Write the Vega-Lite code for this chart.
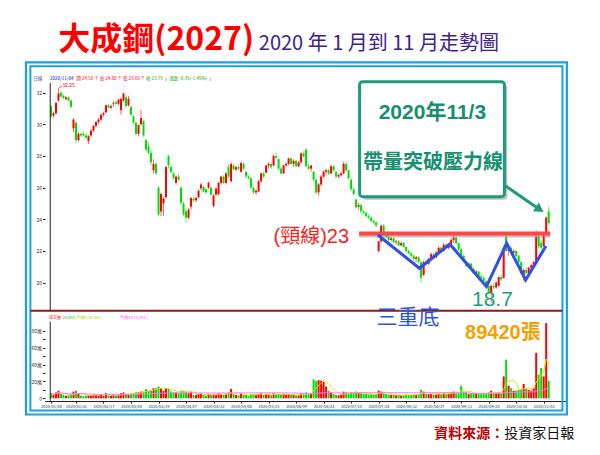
{
"$schema": "https://vega.github.io/schema/vega-lite/v6.json",
"width": 521, "height": 334,
"autosize": "none",
"padding": {"left": 45, "top": 67, "right": 34, "bottom": 54},
"background": "white",
"config": {"view": {"stroke": null}, "font": "Noto Sans CJK TC", "axis": {"labelOverlap": false, "labelSeparation": -20}},
"datasets": {
"k": [
{"i":0,"o":31.15,"h":31.2,"l":30.4,"c":30.5,"v":6000},
{"i":1,"o":30.55,"h":30.8,"l":30.4,"c":30.7,"v":4000},
{"i":2,"o":30.7,"h":31.4,"l":30.6,"c":31.35,"v":7000},
{"i":3,"o":31.5,"h":32.25,"l":31.45,"c":31.95,"v":9000},
{"i":4,"o":32.0,"h":32.1,"l":31.7,"c":31.75,"v":5000},
{"i":5,"o":31.8,"h":31.9,"l":31.6,"c":31.65,"v":4000},
{"i":6,"o":31.6,"h":31.8,"l":31.5,"c":31.7,"v":3000},
{"i":7,"o":31.7,"h":31.75,"l":31.45,"c":31.5,"v":3500},
{"i":8,"o":31.5,"h":31.55,"l":31.05,"c":31.1,"v":4500},
{"i":9,"o":29.75,"h":30.4,"l":29.5,"c":30.3,"v":8000},
{"i":10,"o":30.1,"h":30.2,"l":28.8,"c":29.0,"v":9000},
{"i":11,"o":29.0,"h":29.5,"l":28.9,"c":29.4,"v":5000},
{"i":12,"o":29.4,"h":29.5,"l":29.2,"c":29.3,"v":3000},
{"i":13,"o":29.4,"h":29.55,"l":29.25,"c":29.3,"v":2500},
{"i":14,"o":29.3,"h":29.45,"l":29.05,"c":29.15,"v":3000},
{"i":15,"o":28.95,"h":29.3,"l":28.75,"c":29.25,"v":3500},
{"i":16,"o":29.3,"h":29.7,"l":29.2,"c":29.6,"v":4000},
{"i":17,"o":29.6,"h":29.95,"l":29.5,"c":29.9,"v":4500},
{"i":18,"o":29.9,"h":30.2,"l":29.8,"c":30.15,"v":4000},
{"i":19,"o":30.15,"h":30.4,"l":30.0,"c":30.3,"v":3500},
{"i":20,"o":30.3,"h":30.7,"l":30.2,"c":30.6,"v":5000},
{"i":21,"o":30.6,"h":30.8,"l":30.45,"c":30.7,"v":3000},
{"i":22,"o":30.75,"h":31.25,"l":30.7,"c":31.2,"v":6000},
{"i":23,"o":31.2,"h":31.3,"l":31.0,"c":31.05,"v":3500},
{"i":24,"o":31.05,"h":31.25,"l":30.95,"c":31.15,"v":3000},
{"i":25,"o":31.3,"h":31.5,"l":31.1,"c":31.35,"v":4000},
{"i":26,"o":31.4,"h":31.5,"l":31.2,"c":31.3,"v":3000},
{"i":27,"o":31.3,"h":31.6,"l":31.2,"c":31.55,"v":4000},
{"i":28,"o":30.9,"h":31.7,"l":30.6,"c":31.6,"v":6000},
{"i":29,"o":31.5,"h":32.0,"l":31.4,"c":31.95,"v":7000},
{"i":30,"o":31.7,"h":31.85,"l":31.05,"c":31.15,"v":5000},
{"i":31,"o":31.2,"h":31.8,"l":31.1,"c":31.6,"v":4000},
{"i":32,"o":31.1,"h":31.15,"l":30.55,"c":30.6,"v":5000},
{"i":33,"o":30.5,"h":30.6,"l":30.0,"c":30.1,"v":6000},
{"i":34,"o":30.1,"h":30.15,"l":29.3,"c":29.4,"v":7000},
{"i":35,"o":29.4,"h":30.0,"l":29.25,"c":29.95,"v":7000},
{"i":36,"o":30.0,"h":30.9,"l":29.95,"c":30.4,"v":8000},
{"i":37,"o":30.2,"h":30.3,"l":29.2,"c":29.3,"v":8000},
{"i":38,"o":29.0,"h":29.1,"l":28.3,"c":28.4,"v":11000},
{"i":39,"o":28.6,"h":28.9,"l":28.1,"c":28.2,"v":9000},
{"i":40,"o":28.2,"h":28.4,"l":27.4,"c":27.6,"v":10000},
{"i":41,"o":27.1,"h":27.8,"l":26.9,"c":27.5,"v":12000},
{"i":42,"o":27.5,"h":27.6,"l":26.8,"c":26.9,"v":12000},
{"i":43,"o":26.0,"h":26.1,"l":24.2,"c":24.3,"v":14000},
{"i":44,"o":24.5,"h":25.7,"l":24.2,"c":25.6,"v":12000},
{"i":45,"o":25.0,"h":25.4,"l":24.2,"c":25.3,"v":9000},
{"i":46,"o":25.4,"h":27.4,"l":25.3,"c":27.3,"v":12000},
{"i":47,"o":28.0,"h":28.1,"l":27.2,"c":27.4,"v":11000},
{"i":48,"o":27.3,"h":27.4,"l":26.9,"c":27.0,"v":8000},
{"i":49,"o":26.9,"h":27.0,"l":26.5,"c":26.6,"v":7000},
{"i":50,"o":26.3,"h":26.8,"l":26.2,"c":26.7,"v":7000},
{"i":51,"o":26.7,"h":26.85,"l":26.4,"c":26.5,"v":6000},
{"i":52,"o":26.0,"h":26.1,"l":24.9,"c":25.05,"v":9000},
{"i":53,"o":25.0,"h":25.1,"l":24.2,"c":24.3,"v":9000},
{"i":54,"o":24.5,"h":24.7,"l":23.8,"c":24.1,"v":8000},
{"i":55,"o":24.1,"h":24.7,"l":24.0,"c":24.6,"v":6000},
{"i":56,"o":24.8,"h":25.4,"l":24.6,"c":25.35,"v":8000},
{"i":57,"o":25.3,"h":25.4,"l":25.1,"c":25.2,"v":4000},
{"i":58,"o":25.2,"h":25.45,"l":25.1,"c":25.35,"v":4000},
{"i":59,"o":25.4,"h":25.9,"l":25.3,"c":25.8,"v":5000},
{"i":60,"o":25.95,"h":26.3,"l":25.85,"c":26.2,"v":6000},
{"i":61,"o":26.05,"h":26.1,"l":25.7,"c":25.75,"v":4000},
{"i":62,"o":25.9,"h":26.0,"l":25.6,"c":25.7,"v":3000},
{"i":63,"o":26.0,"h":26.4,"l":25.9,"c":26.3,"v":5000},
{"i":64,"o":26.0,"h":26.1,"l":25.5,"c":25.55,"v":4000},
{"i":65,"o":24.85,"h":25.6,"l":24.75,"c":25.5,"v":5000},
{"i":66,"o":25.55,"h":26.0,"l":25.5,"c":25.95,"v":4000},
{"i":67,"o":25.6,"h":26.35,"l":25.5,"c":26.3,"v":6000},
{"i":68,"o":26.3,"h":26.75,"l":26.2,"c":26.7,"v":5000},
{"i":69,"o":26.7,"h":26.8,"l":26.25,"c":26.3,"v":4000},
{"i":70,"o":26.3,"h":27.0,"l":26.2,"c":26.9,"v":5000},
{"i":71,"o":27.3,"h":27.5,"l":26.6,"c":26.7,"v":7000},
{"i":72,"o":26.4,"h":27.6,"l":26.35,"c":27.5,"v":11000},
{"i":73,"o":27.4,"h":27.5,"l":27.1,"c":27.15,"v":5000},
{"i":74,"o":27.15,"h":27.4,"l":27.05,"c":27.3,"v":4000},
{"i":75,"o":27.3,"h":27.45,"l":27.1,"c":27.2,"v":3500},
{"i":76,"o":27.0,"h":27.65,"l":26.95,"c":27.55,"v":6000},
{"i":77,"o":27.5,"h":27.6,"l":27.1,"c":27.2,"v":4000},
{"i":78,"o":27.0,"h":27.05,"l":26.6,"c":26.7,"v":4000},
{"i":79,"o":26.7,"h":26.8,"l":26.5,"c":26.6,"v":3000},
{"i":80,"o":26.6,"h":26.65,"l":25.9,"c":26.0,"v":5000},
{"i":81,"o":26.0,"h":26.05,"l":25.6,"c":25.7,"v":5000},
{"i":82,"o":25.7,"h":25.9,"l":25.55,"c":25.8,"v":4000},
{"i":83,"o":25.75,"h":26.5,"l":25.7,"c":26.4,"v":5000},
{"i":84,"o":26.4,"h":26.95,"l":26.3,"c":26.9,"v":6000},
{"i":85,"o":26.9,"h":27.0,"l":26.6,"c":26.7,"v":4000},
{"i":86,"o":26.95,"h":27.45,"l":26.9,"c":27.4,"v":5000},
{"i":87,"o":27.4,"h":27.6,"l":27.2,"c":27.5,"v":4500},
{"i":88,"o":27.5,"h":27.6,"l":27.2,"c":27.3,"v":3500},
{"i":89,"o":27.4,"h":28.1,"l":27.35,"c":28.0,"v":6000},
{"i":90,"o":28.0,"h":28.2,"l":27.8,"c":27.9,"v":5000},
{"i":91,"o":27.8,"h":27.85,"l":27.1,"c":27.2,"v":5000},
{"i":92,"o":27.2,"h":27.3,"l":26.8,"c":26.9,"v":4500},
{"i":93,"o":26.9,"h":27.45,"l":26.85,"c":27.4,"v":5000},
{"i":94,"o":27.4,"h":27.6,"l":27.3,"c":27.5,"v":4000},
{"i":95,"o":27.5,"h":27.9,"l":27.4,"c":27.85,"v":5000},
{"i":96,"o":27.85,"h":27.95,"l":27.45,"c":27.5,"v":4000},
{"i":97,"o":27.5,"h":27.8,"l":27.3,"c":27.7,"v":4000},
{"i":98,"o":27.7,"h":27.75,"l":27.3,"c":27.35,"v":3500},
{"i":99,"o":27.35,"h":27.7,"l":27.3,"c":27.6,"v":3500},
{"i":100,"o":27.6,"h":28.25,"l":27.5,"c":28.15,"v":6000},
{"i":101,"o":28.15,"h":28.3,"l":27.9,"c":28.0,"v":5000},
{"i":102,"o":28.4,"h":28.5,"l":27.3,"c":27.35,"v":7000},
{"i":103,"o":27.35,"h":27.5,"l":27.1,"c":27.2,"v":5000},
{"i":104,"o":27.2,"h":27.45,"l":27.0,"c":27.4,"v":5000},
{"i":105,"o":27.0,"h":27.05,"l":26.4,"c":26.5,"v":22500},
{"i":106,"o":26.5,"h":26.6,"l":25.6,"c":25.7,"v":20500},
{"i":107,"o":25.7,"h":26.3,"l":25.5,"c":26.2,"v":21500},
{"i":108,"o":26.2,"h":26.8,"l":26.1,"c":26.7,"v":21000},
{"i":109,"o":26.7,"h":27.1,"l":26.6,"c":27.0,"v":19500},
{"i":110,"o":27.0,"h":27.2,"l":26.8,"c":27.1,"v":14000},
{"i":111,"o":27.1,"h":27.2,"l":26.8,"c":26.9,"v":9000},
{"i":112,"o":26.9,"h":27.45,"l":26.85,"c":27.35,"v":7000},
{"i":113,"o":27.35,"h":27.4,"l":27.0,"c":27.1,"v":5000},
{"i":114,"o":27.0,"h":27.05,"l":26.6,"c":26.7,"v":4000},
{"i":115,"o":26.7,"h":26.9,"l":26.6,"c":26.8,"v":3500},
{"i":116,"o":26.8,"h":27.0,"l":26.7,"c":26.9,"v":4000},
{"i":117,"o":26.9,"h":27.65,"l":26.85,"c":27.5,"v":8000},
{"i":118,"o":27.5,"h":27.6,"l":27.0,"c":27.1,"v":7000},
{"i":119,"o":27.1,"h":27.15,"l":26.5,"c":26.6,"v":6000},
{"i":120,"o":26.5,"h":26.6,"l":25.8,"c":25.9,"v":7000},
{"i":121,"o":25.9,"h":26.0,"l":25.5,"c":25.6,"v":6000},
{"i":122,"o":25.25,"h":25.3,"l":24.7,"c":24.75,"v":8000},
{"i":123,"o":24.8,"h":25.05,"l":24.6,"c":24.9,"v":6000},
{"i":124,"o":24.9,"h":25.0,"l":24.4,"c":24.5,"v":6000},
{"i":125,"o":24.5,"h":24.6,"l":24.3,"c":24.4,"v":5000},
{"i":126,"o":24.4,"h":24.5,"l":24.1,"c":24.2,"v":5000},
{"i":127,"o":24.2,"h":24.35,"l":24.0,"c":24.1,"v":4500},
{"i":128,"o":24.1,"h":24.2,"l":23.8,"c":23.9,"v":5000},
{"i":129,"o":23.9,"h":24.0,"l":23.7,"c":23.8,"v":4500},
{"i":130,"o":23.8,"h":23.9,"l":23.5,"c":23.6,"v":5000},
{"i":131,"o":22.0,"h":22.65,"l":21.9,"c":22.6,"v":9000},
{"i":132,"o":22.6,"h":23.65,"l":22.5,"c":23.6,"v":8000},
{"i":133,"o":23.6,"h":23.7,"l":23.1,"c":23.15,"v":6000},
{"i":134,"o":23.15,"h":23.2,"l":22.8,"c":22.9,"v":5000},
{"i":135,"o":22.9,"h":23.0,"l":22.6,"c":22.7,"v":4500},
{"i":136,"o":22.7,"h":22.9,"l":22.6,"c":22.8,"v":4000},
{"i":137,"o":22.8,"h":22.85,"l":22.5,"c":22.55,"v":4000},
{"i":138,"o":22.55,"h":22.7,"l":22.4,"c":22.6,"v":3500},
{"i":139,"o":22.6,"h":22.7,"l":22.3,"c":22.35,"v":4000},
{"i":140,"o":22.35,"h":22.6,"l":22.3,"c":22.5,"v":3500},
{"i":141,"o":22.5,"h":22.55,"l":22.2,"c":22.25,"v":4000},
{"i":142,"o":22.25,"h":22.3,"l":21.9,"c":22.0,"v":4500},
{"i":143,"o":22.0,"h":22.1,"l":21.8,"c":21.85,"v":4000},
{"i":144,"o":21.85,"h":21.95,"l":21.6,"c":21.7,"v":4000},
{"i":145,"o":21.7,"h":21.8,"l":21.4,"c":21.5,"v":4500},
{"i":146,"o":21.5,"h":21.7,"l":21.3,"c":21.6,"v":4000},
{"i":147,"o":21.6,"h":21.65,"l":21.2,"c":21.3,"v":5000},
{"i":148,"o":21.3,"h":21.35,"l":20.0,"c":20.3,"v":10000},
{"i":149,"o":20.5,"h":21.4,"l":20.4,"c":21.3,"v":8000},
{"i":150,"o":21.3,"h":21.5,"l":21.1,"c":21.2,"v":5000},
{"i":151,"o":21.2,"h":21.6,"l":21.1,"c":21.5,"v":5000},
{"i":152,"o":21.5,"h":21.9,"l":21.4,"c":21.8,"v":5000},
{"i":153,"o":21.8,"h":21.9,"l":21.5,"c":21.6,"v":4500},
{"i":154,"o":21.6,"h":22.0,"l":21.55,"c":21.9,"v":5000},
{"i":155,"o":21.9,"h":22.3,"l":21.8,"c":22.2,"v":5500},
{"i":156,"o":22.2,"h":22.3,"l":21.9,"c":22.0,"v":5000},
{"i":157,"o":22.0,"h":22.5,"l":21.95,"c":22.4,"v":6000},
{"i":158,"o":22.4,"h":22.5,"l":22.1,"c":22.2,"v":5000},
{"i":159,"o":22.2,"h":22.5,"l":22.1,"c":22.45,"v":5500},
{"i":160,"o":22.45,"h":22.8,"l":22.35,"c":22.7,"v":7000},
{"i":161,"o":22.7,"h":23.0,"l":22.5,"c":22.85,"v":8000},
{"i":162,"o":22.85,"h":22.9,"l":22.4,"c":22.5,"v":6000},
{"i":163,"o":22.5,"h":22.55,"l":22.0,"c":22.1,"v":6000},
{"i":164,"o":22.1,"h":22.2,"l":21.6,"c":21.7,"v":15000},
{"i":165,"o":21.7,"h":21.8,"l":21.25,"c":21.35,"v":8000},
{"i":166,"o":21.35,"h":21.4,"l":20.95,"c":21.05,"v":7000},
{"i":167,"o":21.05,"h":21.3,"l":20.9,"c":21.2,"v":5000},
{"i":168,"o":21.2,"h":21.25,"l":20.8,"c":20.85,"v":6000},
{"i":169,"o":20.85,"h":21.0,"l":20.55,"c":20.6,"v":6000},
{"i":170,"o":20.6,"h":20.8,"l":20.4,"c":20.7,"v":5000},
{"i":171,"o":20.7,"h":20.75,"l":20.3,"c":20.4,"v":5000},
{"i":172,"o":20.4,"h":20.6,"l":20.2,"c":20.3,"v":5000},
{"i":173,"o":20.3,"h":20.45,"l":20.0,"c":20.1,"v":6000},
{"i":174,"o":20.1,"h":20.15,"l":19.7,"c":19.8,"v":6000},
{"i":175,"o":19.8,"h":19.9,"l":19.3,"c":19.4,"v":7000},
{"i":176,"o":19.35,"h":19.9,"l":18.7,"c":19.8,"v":9000},
{"i":177,"o":19.8,"h":20.0,"l":19.6,"c":19.7,"v":6000},
{"i":178,"o":19.7,"h":20.1,"l":19.6,"c":20.0,"v":6000},
{"i":179,"o":19.8,"h":20.4,"l":19.75,"c":20.35,"v":7000},
{"i":180,"o":20.35,"h":20.5,"l":20.1,"c":20.2,"v":6000},
{"i":181,"o":20.3,"h":22.3,"l":20.25,"c":22.2,"v":26000},
{"i":182,"o":22.9,"h":23.0,"l":21.95,"c":22.0,"v":46000},
{"i":183,"o":22.0,"h":22.3,"l":21.7,"c":22.2,"v":15000},
{"i":184,"o":22.2,"h":22.3,"l":21.8,"c":21.9,"v":12000},
{"i":185,"o":21.9,"h":22.1,"l":21.7,"c":22.0,"v":9000},
{"i":186,"o":22.0,"h":22.05,"l":21.6,"c":21.7,"v":9000},
{"i":187,"o":21.7,"h":21.75,"l":21.2,"c":21.3,"v":10000},
{"i":188,"o":21.3,"h":21.35,"l":20.5,"c":20.6,"v":11000},
{"i":189,"o":20.3,"h":20.9,"l":20.1,"c":20.8,"v":17000},
{"i":190,"o":20.8,"h":21.0,"l":20.5,"c":20.6,"v":12000},
{"i":191,"o":20.6,"h":21.0,"l":20.55,"c":20.95,"v":10000},
{"i":192,"o":20.95,"h":21.2,"l":20.8,"c":21.1,"v":9000},
{"i":193,"o":21.1,"h":21.4,"l":21.0,"c":21.3,"v":12000},
{"i":194,"o":21.3,"h":23.3,"l":21.2,"c":22.9,"v":54000},
{"i":195,"o":22.9,"h":23.1,"l":22.2,"c":22.3,"v":28000},
{"i":196,"o":22.5,"h":22.7,"l":22.1,"c":22.2,"v":36000},
{"i":197,"o":22.3,"h":23.1,"l":22.25,"c":23.0,"v":26000},
{"i":198,"o":23.2,"h":24.2,"l":23.0,"c":24.1,"v":89420},
{"i":199,"o":24.5,"h":24.8,"l":23.6,"c":23.75,"v":20905}
],
"bottoms": [
{"i":130.7,"p":23.01},{"i":147.3,"p":20.91},{"i":159.5,"p":22.43},{"i":174.1,"p":19.75},{"i":182.2,"p":22.49},{"i":189.8,"p":20.17},{"i":197.9,"p":22.32}
]
},
"layer": [
{
"layer": [
{"data": {"name": "k"}, "mark": {"type": "rule", "strokeWidth": 1, "opacity": 0.6},
 "encoding": {
  "x": {"field": "i", "type": "quantitative", "scale": {"domain": [-0.39, 203.92], "nice": false, "zero": false},
   "axis": {"orient": "bottom", "title": null, "grid": false, "domainColor": "#222", "tickColor": "#222", "tickSize": 2, "labelFontSize": 4, "labelColor": "#333", "labelPadding": 1, "labelOverlap": false, "labelSeparation": -20, "labelFlush": false,
    "values": [0,21,43,65,87,109,131,153,175,197],
    "labelExpr": "['2020/01/08','2020/01/31','2020/02/17','2020/03/04','2020/03/19','2020/04/07','2020/04/22','2020/05/08','2020/05/25','2020/06/09','2020/06/24','2020/07/10','2020/07/28','2020/08/12','2020/08/27','2020/09/11','2020/09/28','2020/10/16','2020/11/02'][indexof([0,10,21,32,43,54,65,76,87,98,109,120,131,142,153,164,175,186,197], datum.value)]"}},
  "y": {"field": "l", "type": "quantitative", "scale": {"domain": [12.527, 33.62], "nice": false, "zero": false},
   "axis": {"orient": "left", "title": null, "grid": false, "domain": false, "tickColor": "#222", "tickSize": 2.5, "labelFontSize": 5, "labelColor": "#333", "labelPadding": 1, "labelOverlap": false, "labelSeparation": -20,
    "values": [20,22,24,26,28,30,32]}},
  "y2": {"field": "h"},
  "color": {"condition": {"test": "datum.c >= datum.o", "value": "#FF0000"}, "value": "#00DD00"}
 }},
{"data": {"name": "k"}, "mark": {"type": "bar", "width": 2},
 "encoding": {
  "x": {"field": "i", "type": "quantitative"},
  "y": {"field": "o", "type": "quantitative"},
  "y2": {"field": "c"},
  "color": {"condition": {"test": "datum.c >= datum.o", "value": "#FF0000"}, "value": "#00DD00"}
 }},
{"data": {"values": [{}]}, "mark": {"type": "rect", "fill": null, "stroke": "#1AA0E6", "strokeWidth": 2.2},
 "encoding": {"x": {"datum": -10.0, "type": "quantitative"}, "x2": {"datum": 206.27}, "y": {"datum": 33.91, "type": "quantitative"}, "y2": {"datum": 11.675}}},
{"data": {"values": [{}]}, "mark": {"type": "rect", "fill": null, "stroke": "#1AA0E6", "strokeWidth": 2},
 "encoding": {"x": {"datum": -8.24, "type": "quantitative"}, "x2": {"datum": 204.5}, "y": {"datum": 33.66, "type": "quantitative"}, "y2": {"datum": 11.93}}},
{"data": {"values": [{}]}, "mark": {"type": "rule", "color": "#222", "strokeWidth": 1},
 "encoding": {"x": {"datum": -0.3, "type": "quantitative"}, "y": {"datum": 18.23, "type": "quantitative"}, "y2": {"datum": 32.6}}},
{"data": {"values": [{}]}, "mark": {"type": "rule", "color": "#8B1A1A", "strokeWidth": 2},
 "encoding": {"x": {"datum": -8.24, "type": "quantitative"}, "x2": {"datum": 204.5}, "y": {"datum": 18.23, "type": "quantitative"}}},
{"data": {"values": [{}]}, "mark": {"type": "rule", "color": "#FF0000", "strokeWidth": 0.8},
 "encoding": {"x": {"datum": 3, "type": "quantitative"}, "x2": {"datum": 4.4}, "y": {"datum": 32.25, "type": "quantitative"}, "y2": {"datum": 32.45}}},
{"data": {"values": [{}]}, "mark": {"type": "text", "align": "left", "baseline": "middle", "fontSize": 5, "color": "#FF0000"},
 "encoding": {"x": {"datum": 4.5, "type": "quantitative"}, "y": {"datum": 32.48, "type": "quantitative"}, "text": {"value": "32.25"}}},
{"data": {"values": [{}]}, "mark": {"type": "text", "align": "left", "baseline": "middle", "fontSize": 4.5, "color": "#3333CC"},
 "encoding": {"x": {"datum": -7.06, "type": "quantitative"}, "y": {"datum": 32.87, "type": "quantitative"}, "text": {"value": "日線"}}},
{"data": {"values": [{}]}, "mark": {"type": "text", "align": "left", "baseline": "middle", "fontSize": 4.5, "color": "#0000CC"},
 "encoding": {"x": {"datum": -0.4, "type": "quantitative"}, "y": {"datum": 32.87, "type": "quantitative"}, "text": {"value": "2020/11/04"}}},
{"data": {"values": [{}]}, "mark": {"type": "text", "align": "left", "baseline": "middle", "fontSize": 4.5, "color": "#FF0000"},
 "encoding": {"x": {"datum": 10.2, "type": "quantitative"}, "y": {"datum": 32.87, "type": "quantitative"}, "text": {"value": "開 24.50 ↑ 高 24.80 ↑ 低 23.60 ↑"}}},
{"data": {"values": [{}]}, "mark": {"type": "text", "align": "left", "baseline": "middle", "fontSize": 4.5, "color": "#00AA00"},
 "encoding": {"x": {"datum": 38.0, "type": "quantitative"}, "y": {"datum": 32.87, "type": "quantitative"}, "text": {"value": "收 23.75 ↓ 漲跌 -0.35(-1.45%) ↓"}}},
{"data": {"values": [{}]}, "mark": {"type": "text", "align": "left", "baseline": "middle", "fontSize": 4, "color": "#FF0000"},
 "encoding": {"x": {"datum": -0.8, "type": "quantitative"}, "y": {"datum": 17.75, "type": "quantitative"}, "text": {"value": "成交量"}}},
{"data": {"values": [{}]}, "mark": {"type": "text", "align": "left", "baseline": "middle", "fontSize": 4, "color": "#00BB00"},
 "encoding": {"x": {"datum": 4.6, "type": "quantitative"}, "y": {"datum": 17.75, "type": "quantitative"}, "text": {"value": "20,905 |"}}},
{"data": {"values": [{}]}, "mark": {"type": "text", "align": "left", "baseline": "middle", "fontSize": 4, "color": "#CCCC00"},
 "encoding": {"x": {"datum": 10.4, "type": "quantitative"}, "y": {"datum": 17.75, "type": "quantitative"}, "text": {"value": "均量5 40,063 |"}}},
{"data": {"values": [{}]}, "mark": {"type": "text", "align": "left", "baseline": "middle", "fontSize": 4, "color": "#FF55FF"},
 "encoding": {"x": {"datum": 27.7, "type": "quantitative"}, "y": {"datum": 17.75, "type": "quantitative"}, "text": {"value": "均量60 12,474 |"}}},
{"data": {"values": [{}]}, "mark": {"type": "text", "align": "right", "baseline": "alphabetic", "fontSize": 32, "fontWeight": "bold", "color": "#FF0000"},
 "encoding": {"x": {"datum": 81.2, "type": "quantitative"}, "y": {"datum": 34.70, "type": "quantitative"}, "text": {"value": "大成鋼(2027)"}}},
{"data": {"values": [{}]}, "mark": {"type": "text", "align": "left", "baseline": "alphabetic", "fontSize": 20, "color": "#40208F"},
 "encoding": {"x": {"datum": 83.1, "type": "quantitative"}, "y": {"datum": 34.70, "type": "quantitative"}, "text": {"value": "2020 年 1 月到 11 月走勢圖"}}},
{"data": {"values": [{}]}, "mark": {"type": "text", "align": "right", "baseline": "alphabetic", "fontSize": 14, "fontWeight": "bold", "color": "#C00000"},
 "encoding": {"x": {"datum": 181.2, "type": "quantitative"}, "y": {"datum": 10.19, "type": "quantitative"}, "text": {"value": "資料來源："}}},
{"data": {"values": [{}]}, "mark": {"type": "text", "align": "left", "baseline": "alphabetic", "fontSize": 14, "color": "#111111"},
 "encoding": {"x": {"datum": 181.2, "type": "quantitative"}, "y": {"datum": 10.19, "type": "quantitative"}, "text": {"value": "投資家日報"}}},
{"data": {"values": [{}]}, "mark": {"type": "rule", "color": "#888888", "strokeWidth": 4, "opacity": 0.5, "yOffset": 2},
 "encoding": {"x": {"datum": 123.2, "type": "quantitative"}, "x2": {"datum": 199.6}, "y": {"datum": 23.1, "type": "quantitative"}}},
{"data": {"values": [{}]}, "mark": {"type": "rule", "color": "#FF4545", "strokeWidth": 4},
 "encoding": {"x": {"datum": 123.2, "type": "quantitative"}, "x2": {"datum": 199.6}, "y": {"datum": 23.1, "type": "quantitative"}}},
{"data": {"name": "bottoms"}, "mark": {"type": "line", "color": "#2F4EEB", "strokeWidth": 3},
 "encoding": {"x": {"field": "i", "type": "quantitative"}, "y": {"field": "p", "type": "quantitative"}}},
{"data": {"values": [{}]}, "mark": {"type": "text", "align": "right", "baseline": "middle", "fontSize": 20, "font": "Liberation Sans, Noto Sans CJK TC", "color": "#FF1E1E"},
 "encoding": {"x": {"datum": 119.2, "type": "quantitative"}, "y": {"datum": 22.89, "type": "quantitative"}, "text": {"value": "(頸線)23"}}},
{"data": {"values": [{}]}, "mark": {"type": "text", "align": "center", "baseline": "middle", "fontSize": 21, "color": "#2B55E0"},
 "encoding": {"x": {"datum": 142.7, "type": "quantitative"}, "y": {"datum": 17.77, "type": "quantitative"}, "text": {"value": "三重底"}}},
{"data": {"values": [{}]}, "mark": {"type": "text", "align": "center", "baseline": "middle", "fontSize": 21, "font": "Liberation Sans", "color": "#1A9E7A"},
 "encoding": {"x": {"datum": 176.5, "type": "quantitative"}, "y": {"datum": 18.9, "type": "quantitative"}, "text": {"value": "18.7"}}},
{"data": {"values": [{}]}, "mark": {"type": "text", "align": "center", "baseline": "middle", "fontSize": 20, "fontWeight": "bold", "font": "Liberation Sans, Noto Sans CJK TC", "color": "#F5A000"},
 "encoding": {"x": {"datum": 180.7, "type": "quantitative"}, "y": {"datum": 16.82, "type": "quantitative"}, "text": {"value": "89420張"}}},
{"data": {"values": [{}]}, "mark": {"type": "rect", "fill": "#777777", "opacity": 0.45, "cornerRadius": 3, "xOffset": 3, "x2Offset": 3, "yOffset": 3, "y2Offset": 3},
 "encoding": {"x": {"datum": 123.4, "type": "quantitative"}, "x2": {"datum": 181.3}, "y": {"datum": 32.69, "type": "quantitative"}, "y2": {"datum": 25.43}}},
{"data": {"values": [{}]}, "mark": {"type": "rect", "fill": "white", "stroke": "#1E9A7C", "strokeWidth": 3, "cornerRadius": 3},
 "encoding": {"x": {"datum": 123.4, "type": "quantitative"}, "x2": {"datum": 181.3}, "y": {"datum": 32.69, "type": "quantitative"}, "y2": {"datum": 25.43}}},
{"data": {"values": [{}]}, "mark": {"type": "text", "align": "center", "baseline": "middle", "fontSize": 21, "fontWeight": "bold", "font": "Liberation Sans, Noto Sans CJK TC", "color": "#178F70"},
 "encoding": {"x": {"datum": 152.5, "type": "quantitative"}, "y": {"datum": 30.70, "type": "quantitative"}, "text": {"value": "2020年11/3"}}},
{"data": {"values": [{}]}, "mark": {"type": "text", "align": "center", "baseline": "middle", "fontSize": 20, "fontWeight": "bold", "color": "#178F70"},
 "encoding": {"x": {"datum": 152.7, "type": "quantitative"}, "y": {"datum": 27.58, "type": "quantitative"}, "text": {"value": "帶量突破壓力線"}}},
{"data": {"values": [{}]}, "mark": {"type": "rule", "color": "#1E9A7C", "strokeWidth": 3},
 "encoding": {"x": {"datum": 181.2, "type": "quantitative"}, "x2": {"datum": 194.8}, "y": {"datum": 26.17, "type": "quantitative"}, "y2": {"datum": 24.68}}},
{"data": {"values": [{}]}, "mark": {"type": "point", "shape": "triangle-right", "filled": true, "size": 110, "angle": 34, "color": "#1E9A7C", "opacity": 1},
 "encoding": {"x": {"datum": 195.4, "type": "quantitative"}, "y": {"datum": 24.62, "type": "quantitative"}}}
]
},
{
"data": {"name": "k"},
"transform": [
 {"window": [{"op": "mean", "field": "v", "as": "m5"}], "frame": [-4, 0], "sort": [{"field": "i"}]},
 {"window": [{"op": "mean", "field": "v", "as": "m60"}], "frame": [-59, 0], "sort": [{"field": "i"}]}
],
"layer": [
{"mark": {"type": "bar", "width": 2},
 "encoding": {
  "x": {"field": "i", "type": "quantitative",
   "axis": {"orient": "bottom", "title": null, "grid": false, "domainColor": "#222", "tickColor": "#222", "tickSize": 2, "labelFontSize": 4, "labelColor": "#333", "labelPadding": 1, "labelOverlap": false, "labelSeparation": -20, "labelFlush": false,
    "values": [10,32,54,76,98,120,142,164,186],
    "labelExpr": "['2020/01/08','2020/01/31','2020/02/17','2020/03/04','2020/03/19','2020/04/07','2020/04/22','2020/05/08','2020/05/25','2020/06/09','2020/06/24','2020/07/10','2020/07/28','2020/08/12','2020/08/27','2020/09/11','2020/09/28','2020/10/16','2020/11/02'][indexof([0,10,21,32,43,54,65,76,87,98,109,120,131,142,153,164,175,186,197], datum.value)]"}},
  "y": {"field": "v", "type": "quantitative", "scale": {"domain": [-3210, 393816], "nice": false, "zero": false},
   "axis": {"orient": "left", "title": null, "grid": false, "domain": false, "tickColor": "#222", "tickSize": 2.5, "labelFontSize": 5, "labelColor": "#333", "labelPadding": 1, "labelOverlap": false,
    "values": [0,10000,20000,30000,40000,50000,60000,70000,80000],
    "labelExpr": "datum.value % 20000 == 0 ? (datum.value == 0 ? '0' : (datum.value/1000) + '萬') : ''"}},
  "y2": {"datum": 0},
  "color": {"condition": {"test": "datum.c >= datum.o", "value": "#FF0000"}, "value": "#00DD00"}
 }},
{"mark": {"type": "line", "color": "#E8E000", "strokeWidth": 1},
 "encoding": {"x": {"field": "i", "type": "quantitative"}, "y": {"field": "m5", "type": "quantitative"}}},
{"mark": {"type": "line", "color": "#FF77FF", "strokeWidth": 1},
 "encoding": {"x": {"field": "i", "type": "quantitative"}, "y": {"field": "m60", "type": "quantitative"}}},
{"data": {"values": [{}]}, "mark": {"type": "rule", "color": "#222", "strokeWidth": 1},
 "encoding": {"x": {"datum": -0.3, "type": "quantitative"}, "y": {"datum": -3000, "type": "quantitative"}, "y2": {"datum": 91000}}}
]
}
],
"resolve": {"scale": {"y": "independent"}, "axis": {"y": "independent", "x": "independent"}}
}
